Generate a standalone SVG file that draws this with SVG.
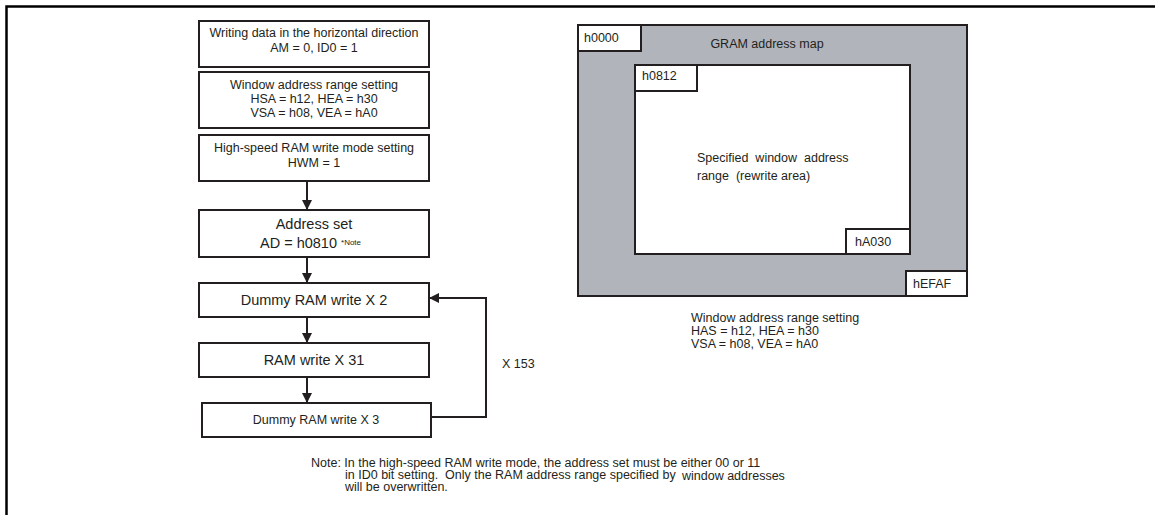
<svg xmlns="http://www.w3.org/2000/svg" width="1155" height="515" viewBox="0 0 1155 515">
<style>
.box{fill:#fff;stroke:#231f20;stroke-width:2}
.t{font-family:"Liberation Sans",Arial,sans-serif;fill:#231f20}
.s12{font-size:12.5px}
.s14{font-size:14.5px}
.con{fill:none;stroke:#231f20;stroke-width:2}
.gray{fill:#b1b5bb;stroke:#231f20;stroke-width:2}
</style>
<defs>
<marker id="ah" markerWidth="10" markerHeight="12" refX="9" refY="5" orient="auto" markerUnits="userSpaceOnUse" viewBox="0 0 10 10">
<path d="M0,0 L10,5 L0,10 Z" fill="#231f20"/>
</marker>
</defs>
<rect width="1155" height="515" fill="#fff"/>
<path d="M6.5,515 V6.5 H1155" fill="none" stroke="#000" stroke-width="2.5"/>

<g id="n1">
<rect class="box" x="199" y="21" width="230" height="46"/>
<text class="t s12" x="314" y="37" text-anchor="middle">Writing data in the horizontal direction</text>
<text class="t s12" x="314" y="52" text-anchor="middle">AM = 0, ID0 = 1</text>
</g>
<g id="n2">
<rect class="box" x="199" y="72" width="230" height="56"/>
<text class="t s12" x="314" y="89" text-anchor="middle">Window address range setting</text>
<text class="t s12" x="314" y="103" text-anchor="middle">HSA = h12, HEA = h30</text>
<text class="t s12" x="314" y="117" text-anchor="middle">VSA = h08, VEA = hA0</text>
</g>
<g id="n3">
<rect class="box" x="199" y="135" width="230" height="46"/>
<text class="t s12" x="314" y="152" text-anchor="middle">High-speed RAM write mode setting</text>
<text class="t s12" x="314" y="167" text-anchor="middle">HWM = 1</text>
</g>
<g id="n4">
<rect class="box" x="199" y="210" width="230" height="47"/>
<text class="t s14" x="314" y="229" text-anchor="middle">Address set</text>
<text class="t s14" x="260" y="248">AD = h0810 <tspan font-size="8" dy="-3">*Note</tspan></text>
</g>
<g id="n5">
<rect class="box" x="199" y="283" width="230" height="34"/>
<text class="t s14" x="314" y="305" text-anchor="middle">Dummy RAM write X 2</text>
</g>
<g id="n6">
<rect class="box" x="199" y="343" width="230" height="34"/>
<text class="t s14" x="314" y="365" text-anchor="middle">RAM write X 31</text>
</g>
<g id="n7">
<rect class="box" x="202" y="403" width="229" height="34"/>
<text class="t s12" x="316" y="424" text-anchor="middle">Dummy RAM write X 3</text>
</g>

<g id="connectors">
<line class="con" x1="307" y1="181" x2="307" y2="209" marker-end="url(#ah)"/>
<line class="con" x1="307" y1="257" x2="307" y2="282" marker-end="url(#ah)"/>
<line class="con" x1="307" y1="317" x2="307" y2="342" marker-end="url(#ah)"/>
<line class="con" x1="307" y1="377" x2="307" y2="402" marker-end="url(#ah)"/>
<path class="con" d="M431,417 H486 V298 H430" marker-end="url(#ah)"/>
<text class="t s12" x="502" y="368">X 153</text>
</g>

<g id="map">
<rect class="gray" x="578" y="25" width="389" height="271"/>
<rect class="box" x="635" y="65" width="275" height="189"/>
<rect class="box" x="578" y="25" width="63" height="26"/>
<text class="t s12" x="584" y="42">h0000</text>
<text class="t s12" x="767" y="48" text-anchor="middle">GRAM address map</text>
<rect class="box" x="635" y="65" width="62" height="26"/>
<text class="t s12" x="642" y="80">h0812</text>
<text class="t s12" x="697" y="162" xml:space="preserve">Specified  window  address</text>
<text class="t s12" x="697" y="180" xml:space="preserve">range  (rewrite area)</text>
<rect class="box" x="846" y="229" width="64" height="25"/>
<text class="t s12" x="855" y="246">hA030</text>
<rect class="box" x="906" y="271" width="61" height="25"/>
<text class="t s12" x="913" y="288">hEFAF</text>
</g>

<g id="map-label">
<text class="t s12" x="691" y="322">Window address range setting</text>
<text class="t s12" x="691" y="335">HAS = h12, HEA = h30</text>
<text class="t s12" x="691" y="348">VSA = h08, VEA = hA0</text>
</g>

<g id="note">
<text class="t s12" x="311" y="467">Note: In the high-speed RAM write mode, the address set must be either 00 or 11</text>
<text class="t s12" x="345" y="479" xml:space="preserve">in ID0 bit setting.  Only the RAM address range specified by</text>
<text class="t s12" x="682" y="480">window addresses</text>
<text class="t s12" x="345" y="491">will be overwritten.</text>
</g>
</svg>
